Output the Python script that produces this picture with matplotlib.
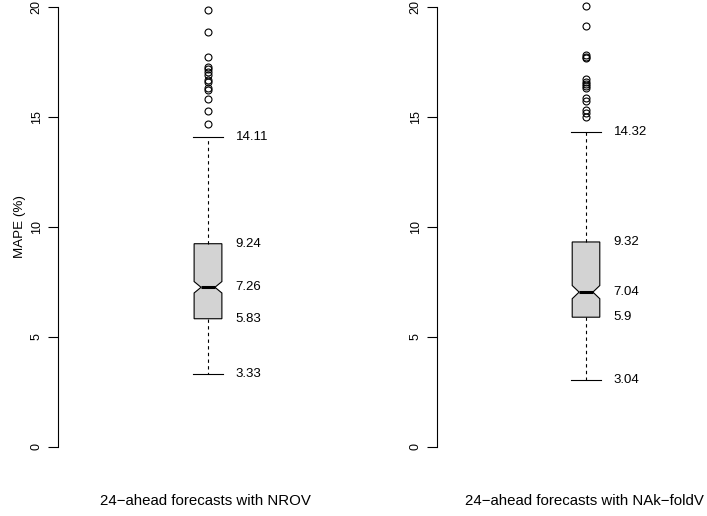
import matplotlib.pyplot as plt

plt.rcParams['font.family'] = ['Liberation Sans', 'DejaVu Sans']

# summary stats (MAPE %)
titles = ["24\u2212ahead forecasts with NROV", "24\u2212ahead forecasts with NAk\u2212foldV"]
whislo = [3.33, 3.04]
q1 = [5.83, 5.9]
med = [7.26, 7.04]
q3 = [9.24, 9.32]
whishi = [14.11, 14.32]
cilo = [7.00, 6.74]
cihi = [7.52, 7.34]
fliers_nrov = [19.86, 18.86, 17.73, 17.27, 17.18, 17.05, 16.91, 16.68, 16.59, 16.32,
               16.23, 15.82, 15.27, 14.68]
fliers_nak = [20.05, 19.14, 17.82, 17.73, 17.68, 16.73, 16.59, 16.5, 16.41, 16.32,
              15.86, 15.73, 15.32, 15.18, 15.0]
fliers = [fliers_nrov, fliers_nak]
yticks = [0, 5, 10, 15, 20]

fig = plt.figure(figsize=(7.07, 5.16), dpi=100)
W, H = 707, 516
ax_left = [58, 437]
ax_w = [300, 298]
title_x = [205, 584]
bottom = 464.6
top = -10.6

for i in range(2):
    ax = fig.add_axes([ax_left[i] / W, (H - bottom) / H, ax_w[i] / W, (bottom - top) / H])
    stats = [dict(med=med[i], q1=q1[i], q3=q3[i], whislo=whislo[i], whishi=whishi[i],
                  cilo=cilo[i], cihi=cihi[i], fliers=fliers[i])]
    ax.bxp(stats, positions=[1], widths=[0.1], capwidths=[0.11], shownotches=True,
           patch_artist=True,
           boxprops=dict(facecolor='#d3d3d3', edgecolor='black', linewidth=0.8),
           whiskerprops=dict(color='black', linewidth=0.8, linestyle=(0, (3, 3))),
           capprops=dict(color='black', linewidth=0.8),
           medianprops=dict(color='black', linewidth=2.2),
           flierprops=dict(marker='o', markerfacecolor='none', markeredgecolor='black',
                           markersize=5, markeredgewidth=0.8))
    ax.set_xlim(0.46, 1.54)
    ax.set_ylim(-0.8, 20.8)
    for s in ['top', 'right', 'bottom']:
        ax.spines[s].set_visible(False)
    ax.spines['left'].set_bounds(0, 20)
    ax.spines['left'].set_linewidth(0.8)
    ax.set_xticks([])
    ax.set_yticks(yticks)
    ax.set_yticklabels([str(t) for t in yticks], rotation=90, va='center')
    ax.tick_params(axis='y', length=7, width=0.8, pad=4, labelsize=9)
    for v in [whislo[i], q1[i], med[i], q3[i], whishi[i]]:
        ax.text(1.1, v, f"{v:g}", ha='left', va='center', fontsize=9.5)
    fig.text(title_x[i] / W, (H - 501) / H, titles[i],
             ha='center', va='center', fontsize=10.8)

fig.text(20 / W, (H - 227) / H, "MAPE (%)", rotation=90, ha='center', va='center', fontsize=9.6)

fig.savefig("out.png", dpi=100)
